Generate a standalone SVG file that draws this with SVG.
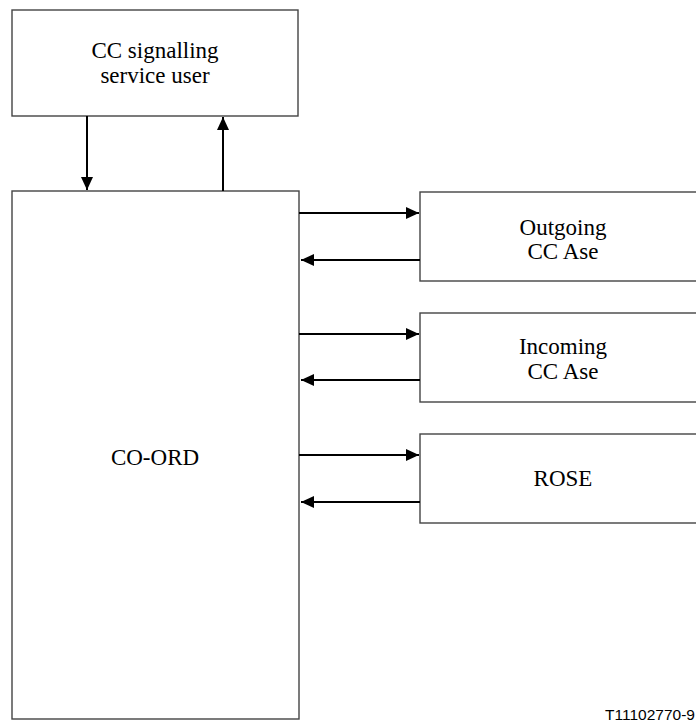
<svg xmlns="http://www.w3.org/2000/svg" width="696" height="720" viewBox="0 0 696 720">
<style>
.box{fill:#fff;stroke:#444;stroke-width:1.4}
.lbl{font-family:"Liberation Serif","Times New Roman",serif;font-size:23px;fill:#000;text-anchor:middle}
.con{stroke:#000;stroke-width:2;fill:none}
.ref{font-family:"Liberation Sans",Arial,sans-serif;font-size:15.5px;fill:#000}
</style>
<defs>
<marker id="ah" markerWidth="13" markerHeight="12" refX="13" refY="6" orient="auto" markerUnits="userSpaceOnUse">
<path d="M0,0 L13,6 L0,12 Z" fill="#000"/>
</marker>
</defs>
<rect width="696" height="720" fill="#fff"/>
<g id="ccuser">
<rect class="box" x="12" y="10" width="286" height="106"/>
<text class="lbl" x="155" y="58">CC signalling</text>
<text class="lbl" x="155" y="83">service user</text>
</g>
<g id="coord">
<rect class="box" x="12" y="191" width="287" height="528"/>
<text class="lbl" x="155" y="465">CO-ORD</text>
</g>
<g id="outgoing">
<rect class="box" x="420" y="192" width="290" height="89"/>
<text class="lbl" x="563" y="235">Outgoing</text>
<text class="lbl" x="563" y="259">CC Ase</text>
</g>
<g id="incoming">
<rect class="box" x="420" y="313" width="290" height="89"/>
<text class="lbl" x="563" y="354">Incoming</text>
<text class="lbl" x="563" y="379">CC Ase</text>
</g>
<g id="rose">
<rect class="box" x="420" y="434" width="290" height="89"/>
<text class="lbl" x="563" y="486">ROSE</text>
</g>
<g id="connectors">
<line class="con" x1="87" y1="116" x2="87" y2="190" marker-end="url(#ah)"/>
<line class="con" x1="223" y1="191" x2="223" y2="117" marker-end="url(#ah)"/>
<line class="con" x1="299" y1="213" x2="419" y2="213" marker-end="url(#ah)"/>
<line class="con" x1="420" y1="260" x2="301" y2="260" marker-end="url(#ah)"/>
<line class="con" x1="299" y1="334" x2="419" y2="334" marker-end="url(#ah)"/>
<line class="con" x1="420" y1="380" x2="301" y2="380" marker-end="url(#ah)"/>
<line class="con" x1="299" y1="455" x2="419" y2="455" marker-end="url(#ah)"/>
<line class="con" x1="420" y1="502" x2="301" y2="502" marker-end="url(#ah)"/>
</g>
<text class="ref" x="605" y="720">T11102770-9</text>
</svg>
